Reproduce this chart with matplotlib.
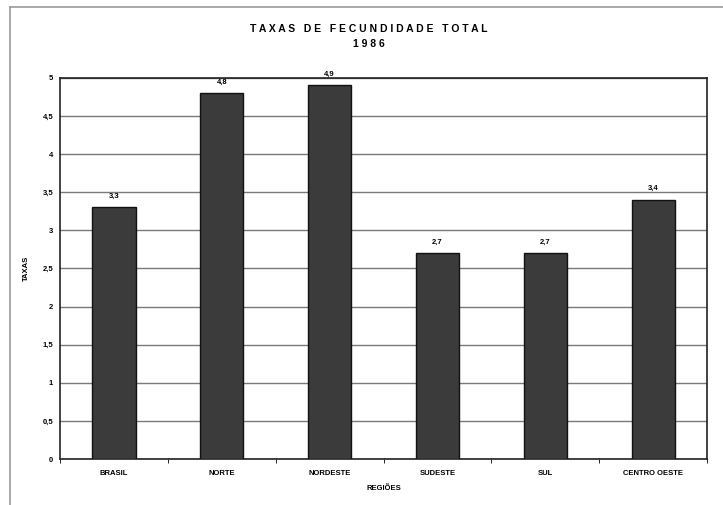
import matplotlib.pyplot as plt
from matplotlib.lines import Line2D
import numpy as np

# dados
regioes = ["BRASIL", "NORTE", "NORDESTE", "SUDESTE", "SUL", "CENTRO OESTE"]
taxas = [3.3, 4.8, 4.9, 2.7, 2.7, 3.4]
rotulos = ["3,3", "4,8", "4,9", "2,7", "2,7", "3,4"]
yticks = [0, 0.5, 1, 1.5, 2, 2.5, 3, 3.5, 4, 4.5, 5]
ytick_labels = ["0", "0,5", "1", "1,5", "2", "2,5", "3", "3,5", "4", "4,5", "5"]

plt.rcParams['font.family'] = ['Liberation Sans', 'DejaVu Sans']

fig = plt.figure(figsize=(7.23, 5.05), dpi=100)
ax = fig.add_axes([0.083, 0.091, 0.895, 0.755])

x = np.arange(len(regioes))
ax.bar(x, taxas, width=0.4, color='#3b3b3b', edgecolor='#111111', linewidth=1, zorder=3)

for xi, v, lab in zip(x, taxas, rotulos):
    ax.text(xi, v + 0.1, lab, ha='center', va='bottom', fontsize=5.5, fontweight='bold')

ax.set_xlim(-0.5, len(regioes) - 0.5)
ax.set_ylim(0, 5)
ax.set_yticks(yticks)
ax.set_yticklabels(ytick_labels, fontsize=5.5, fontweight='bold')
ax.set_xticks(x)
ax.set_xticklabels(regioes, fontsize=5.5, fontweight='bold')
ax.set_xticks(np.arange(-0.5, len(regioes), 1), minor=True)
ax.tick_params(axis='x', which='major', length=0, pad=8)
ax.tick_params(axis='x', which='minor', length=3, direction='out')
ax.tick_params(axis='y', length=0, pad=5)
ax.yaxis.grid(True, color='#7a7a7a', linewidth=1)
ax.set_axisbelow(True)
for s in ax.spines.values():
    s.set_color('#222222')
    s.set_linewidth(1.2)

ax.set_ylabel("TAXAS", fontsize=5.5, fontweight='bold', labelpad=9)
ax.set_xlabel("REGIÕES", fontsize=5.5, fontweight='bold', labelpad=6)

fig.text(0.51, 0.943, "T A X A S   D E   F E C U N D I D A D E   T O T A L",
         ha='center', va='center', fontsize=7.5, fontweight='bold')
fig.text(0.51, 0.912, "1 9 8 6", ha='center', va='center', fontsize=7.5, fontweight='bold')

# moldura externa
fig.add_artist(Line2D([0.014, 0.014], [0, 0.986], color='#999999', linewidth=1.2, transform=fig.transFigure))
fig.add_artist(Line2D([0.014, 1], [0.986, 0.986], color='#999999', linewidth=1.2, transform=fig.transFigure))

fig.savefig("out.png", dpi=100)
